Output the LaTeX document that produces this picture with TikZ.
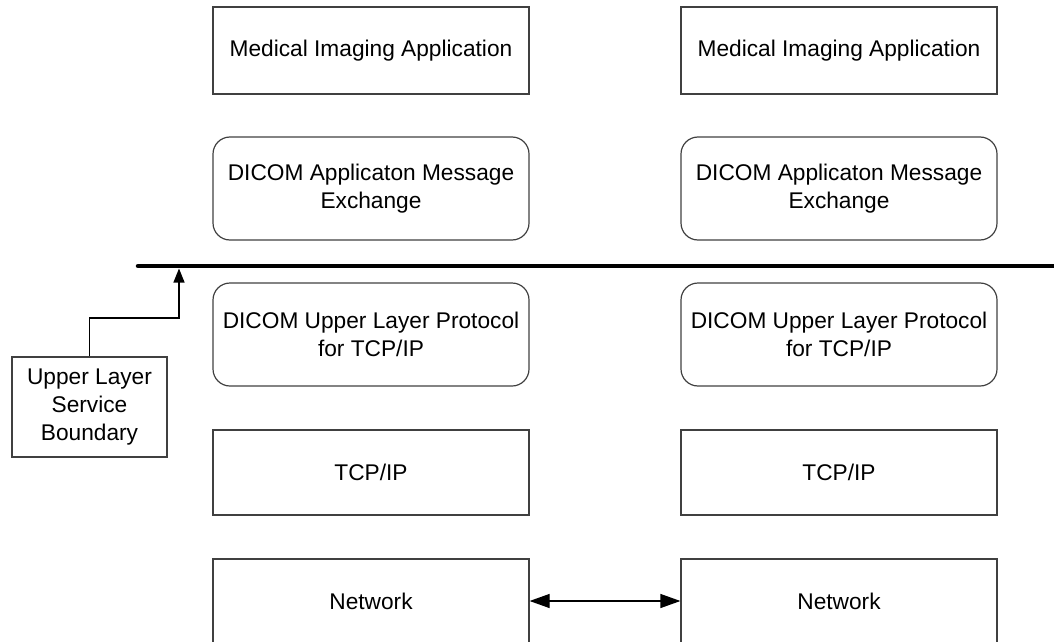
\documentclass[tikz,border=0pt]{standalone}
\usepackage{fontspec}
\setmainfont{Liberation Sans}
\usetikzlibrary{arrows.meta}

\tikzset{
  layer/.style={draw=black!75, line width=1.2pt, minimum width=316pt, inner sep=0pt,
                align=center, font=\fontsize{22.7}{27.5}\selectfont},
  softlayer/.style={layer, rounded corners=17pt},
}

\begin{document}
\begin{tikzpicture}[x=1pt, y=-1pt]
  \useasboundingbox (0,0) rectangle (1054,642);

  % two protocol stacks side by side
  \foreach \s/\cx in {L/371, R/839} {
    \node[layer, minimum height=87pt] (app\s) at (\cx,50.5) {Medical Imaging Application};
    \node[softlayer, minimum height=103pt] (msg\s) at (\cx,188.5) {DICOM Applicaton Message\\Exchange};
    \node[softlayer, minimum height=103pt] (ul\s) at (\cx,334.5) {DICOM Upper Layer Protocol\\for TCP/IP};
    \node[layer, minimum height=85pt] (tcp\s) at (\cx,472.5) {TCP/IP};
    \node[layer, minimum height=84pt] (net\s) at (\cx,601) {Network};
  }

  % service boundary
  \coordinate (bndL) at (138,266);
  \coordinate (bndR) at (1060,266);
  \draw[line width=4.5pt, line cap=round] (bndL) -- (bndR);

  % callout pointing at the boundary
  \node[layer, minimum width=155pt, minimum height=100pt, font=\fontsize{22.7}{28}\selectfont]
    (ulsb) at (89.5,407) {Upper Layer\\Service\\Boundary};
  \coordinate (bndTip) at (179,268.5);
  \draw[line width=1.2pt, -{Triangle[length=14pt,width=11pt]}] (ulsb.north) |- (179,318) -- (bndTip);

  % peer link between the networks
  \draw[line width=1.2pt, {Triangle[length=20pt,width=14pt]}-{Triangle[length=20pt,width=14pt]}]
    (netL.east) -- (netR.west);
\end{tikzpicture}
\end{document}
